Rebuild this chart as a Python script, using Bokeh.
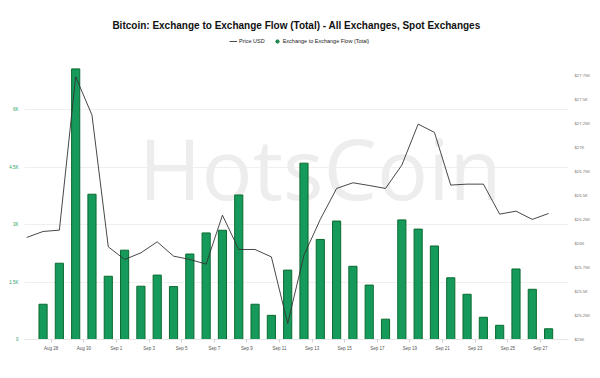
import pandas as pd
from bokeh.plotting import figure
from bokeh.models import (Range1d, LinearAxis, FixedTicker, Legend, LegendItem,
                          ColumnDataSource, Label)
from bokeh.embed import file_html
from bokeh.resources import INLINE

# ---------------- data ----------------
price_dates = ["2023-08-26", "2023-08-27", "2023-08-28", "2023-08-29", "2023-08-30",
               "2023-08-31", "2023-09-01", "2023-09-02", "2023-09-03", "2023-09-04",
               "2023-09-05", "2023-09-06", "2023-09-07", "2023-09-08", "2023-09-09",
               "2023-09-10", "2023-09-11", "2023-09-12", "2023-09-13", "2023-09-14",
               "2023-09-15", "2023-09-16", "2023-09-17", "2023-09-18", "2023-09-19",
               "2023-09-20", "2023-09-21", "2023-09-22", "2023-09-23", "2023-09-24",
               "2023-09-25", "2023-09-26", "2023-09-27"]
price_usd = [26065, 26127, 26141, 27741, 27341, 25967, 25835, 25904, 26019, 25870,
             25835, 25786, 26297, 25939, 25939, 25862, 25167, 25880, 26253, 26576,
             26635, 26607, 26576, 26819, 27247, 27161, 26611, 26621, 26621, 26308,
             26339, 26253, 26315]

flow_dates = price_dates[1:]
flow_total = [920, 1990, 7060, 3790, 1650, 2330, 1390, 1680, 1380, 2230,
              2780, 2850, 3770, 920, 630, 1810, 4600, 2610, 3090, 1910,
              1420, 530, 3120, 2880, 2440, 1610, 1180, 580, 370, 1840,
              1310, 280]

tick_dates = ["2023-08-28", "2023-08-30", "2023-09-01", "2023-09-03", "2023-09-05",
              "2023-09-07", "2023-09-09", "2023-09-11", "2023-09-13", "2023-09-15",
              "2023-09-17", "2023-09-19", "2023-09-21", "2023-09-23", "2023-09-25",
              "2023-09-27"]
tick_labels = ["Aug 28", "Aug 30", "Sep 1", "Sep 3", "Sep 5", "Sep 7", "Sep 9",
               "Sep 11", "Sep 13", "Sep 15", "Sep 17", "Sep 19", "Sep 21", "Sep 23",
               "Sep 25", "Sep 27"]

flow_ticks = [0, 1500, 3000, 4500, 6000]
flow_tick_labels = ["0", "1.5K", "3K", "4.5K", "6K"]
price_ticks = [25000, 25250, 25500, 25750, 26000, 26250, 26500, 26750, 27000,
               27250, 27500, 27750]
price_tick_labels = ["$25K", "$25.25K", "$25.5K", "$25.75K", "$26K", "$26.25K",
                     "$26.5K", "$26.75K", "$27K", "$27.25K", "$27.5K", "$27.75K"]

# ---------------- helpers ----------------
origin = pd.Timestamp(price_dates[0])


def day_pos(d, shift=0.0):
    return (pd.Timestamp(d) - origin).days + shift


price_x = [day_pos(d, 0.5) for d in price_dates]
flow_x = [day_pos(d, 0.5) for d in flow_dates]
tick_x = [day_pos(d) for d in tick_dates]

bar_src = ColumnDataSource(dict(x=flow_x, top=flow_total))
line_src = ColumnDataSource(dict(x=price_x, y=price_usd))

FLOW_FILL = "#169a5c"
FLOW_LINE = "#0b6a2f"

p = figure(width=600, height=378, output_backend="svg", toolbar_location=None,
           x_range=Range1d(0.362, 33.72), y_range=Range1d(0, 8009),
           min_border_left=24, min_border_right=32, min_border_top=32,
           min_border_bottom=39, background_fill_color="white",
           border_fill_color="white", outline_line_color=None)
p.extra_y_ranges = {"price": Range1d(25000, 28203),
                    # range used only so the legend marker series stays out of view
                    "swatch": Range1d(-20000, -10000)}

# watermark
wm = Label(x=18.5, y=4500, text="HotsCoin", text_font="Open Sans",
           text_font_size="85px", text_color="#ededed", text_align="center",
           text_baseline="middle", level="underlay")
p.add_layout(wm)

bars = p.vbar(x="x", top="top", width=0.5, source=bar_src, fill_color=FLOW_FILL,
              line_color=FLOW_LINE, line_width=1)
line = p.line(x="x", y="y", source=line_src, y_range_name="price",
              line_color="#333333", line_width=0.9)
# round legend swatch for the flow series (its points fall outside the frame)
dot = p.scatter(x="x", y="top", source=bar_src, y_range_name="swatch",
                marker="circle", size=6, fill_color=FLOW_FILL, line_color=FLOW_LINE)

# axes
xa = p.xaxis[0]
xa.ticker = FixedTicker(ticks=tick_x, minor_ticks=[])
xa.major_label_overrides = {t: l for t, l in zip(tick_x, tick_labels)}
xa.major_label_text_font = "Liberation Sans"
xa.major_label_text_font_size = "4.5px"
xa.major_label_text_color = "#555555"
xa.axis_line_color = "#e6e6e6"
xa.major_tick_line_color = "#d0d0d0"
xa.major_tick_out = 3
xa.major_tick_in = 0
xa.minor_tick_out = 0
xa.minor_tick_line_color = None
xa.major_label_standoff = 3

ya = p.yaxis[0]
ya.ticker = FixedTicker(ticks=flow_ticks, minor_ticks=[])
ya.major_label_overrides = {t: l for t, l in zip(flow_ticks, flow_tick_labels)}
ya.major_label_text_font = "Liberation Sans"
ya.major_label_text_font_size = "4.5px"
ya.major_label_text_color = "#2e9d66"
ya.axis_line_color = None
ya.major_tick_line_color = None
ya.minor_tick_line_color = None
ya.major_tick_out = 0
ya.major_tick_in = 0
ya.minor_tick_out = 0
ya.major_label_standoff = 6

ra = LinearAxis(y_range_name="price",
                ticker=FixedTicker(ticks=price_ticks, minor_ticks=[]))
ra.major_label_overrides = {t: l for t, l in zip(price_ticks, price_tick_labels)}
ra.major_label_text_font = "Liberation Sans"
ra.major_label_text_font_size = "4.2px"
ra.major_label_text_color = "#777777"
ra.axis_line_color = None
ra.major_tick_line_color = None
ra.minor_tick_line_color = None
ra.major_tick_out = 0
ra.major_tick_in = 0
ra.minor_tick_out = 0
ra.major_label_standoff = 6
p.add_layout(ra, "right")

p.xgrid.grid_line_color = None
p.ygrid.grid_line_color = "#efefef"
p.ygrid.grid_line_width = 1

# title
p.title.text = "Bitcoin: Exchange to Exchange Flow (Total) - All Exchanges, Spot Exchanges"
p.title.align = "center"
p.title.offset = 6
p.title.text_font = "Liberation Sans"
p.title.text_font_size = "10px"
p.title.text_font_style = "bold"
p.title.text_color = "#111111"
p.title.standoff = 4

legend = Legend(items=[LegendItem(label="Price USD", renderers=[line]),
                       LegendItem(label="Exchange to Exchange Flow (Total)", renderers=[dot])],
                orientation="horizontal", location=(205, 291),
                label_text_font="Liberation Sans", label_text_font_size="5.5px",
                label_text_color="#222222", glyph_width=8, glyph_height=14,
                label_standoff=2, spacing=8, padding=2, margin=0,
                border_line_color=None, background_fill_alpha=0)
p.add_layout(legend)

open("out.html", "w").write(file_html(p, INLINE))
